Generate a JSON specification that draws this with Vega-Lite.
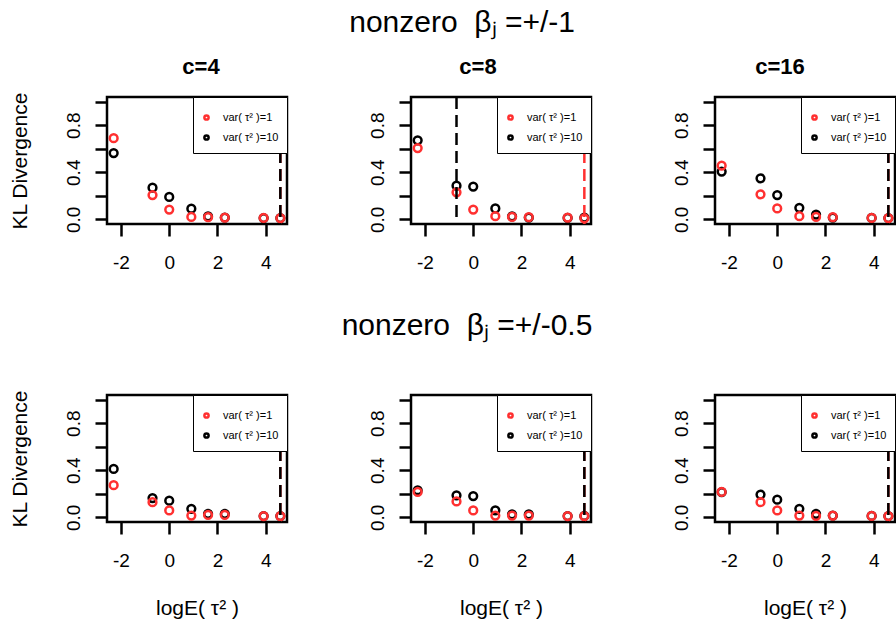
{
  "$schema": "https://vega.github.io/schema/vega-lite/v6.json",
  "background": "white",
  "padding": {"left": 7, "top": 8, "right": 0, "bottom": 4},
  "title": {"text": "nonzero\u00a0 βⱼ =+/-1", "fontSize": 30, "fontWeight": "normal", "anchor": "middle", "dx": 9, "offset": 16},
  "datasets": {
    "pts": [
      {"beta": "1", "c": 4, "series": "var( τ² )=10", "logtau": -2.303, "kl": 0.563},
      {"beta": "1", "c": 4, "series": "var( τ² )=10", "logtau": -0.693, "kl": 0.269},
      {"beta": "1", "c": 4, "series": "var( τ² )=10", "logtau": 0, "kl": 0.19},
      {"beta": "1", "c": 4, "series": "var( τ² )=10", "logtau": 0.916, "kl": 0.09},
      {"beta": "1", "c": 4, "series": "var( τ² )=10", "logtau": 1.609, "kl": 0.025},
      {"beta": "1", "c": 4, "series": "var( τ² )=10", "logtau": 2.303, "kl": 0.015},
      {"beta": "1", "c": 4, "series": "var( τ² )=10", "logtau": 3.912, "kl": 0.01},
      {"beta": "1", "c": 4, "series": "var( τ² )=10", "logtau": 4.605, "kl": 0.01},
      {"beta": "1", "c": 4, "series": "var( τ² )=1", "logtau": -2.303, "kl": 0.69},
      {"beta": "1", "c": 4, "series": "var( τ² )=1", "logtau": -0.693, "kl": 0.206},
      {"beta": "1", "c": 4, "series": "var( τ² )=1", "logtau": 0, "kl": 0.083},
      {"beta": "1", "c": 4, "series": "var( τ² )=1", "logtau": 0.916, "kl": 0.02},
      {"beta": "1", "c": 4, "series": "var( τ² )=1", "logtau": 1.609, "kl": 0.018},
      {"beta": "1", "c": 4, "series": "var( τ² )=1", "logtau": 2.303, "kl": 0.015},
      {"beta": "1", "c": 4, "series": "var( τ² )=1", "logtau": 3.912, "kl": 0.012},
      {"beta": "1", "c": 4, "series": "var( τ² )=1", "logtau": 4.605, "kl": 0.01},

      {"beta": "1", "c": 8, "series": "var( τ² )=10", "logtau": -2.303, "kl": 0.672},
      {"beta": "1", "c": 8, "series": "var( τ² )=10", "logtau": -0.693, "kl": 0.286},
      {"beta": "1", "c": 8, "series": "var( τ² )=10", "logtau": 0, "kl": 0.278},
      {"beta": "1", "c": 8, "series": "var( τ² )=10", "logtau": 0.916, "kl": 0.092},
      {"beta": "1", "c": 8, "series": "var( τ² )=10", "logtau": 1.609, "kl": 0.025},
      {"beta": "1", "c": 8, "series": "var( τ² )=10", "logtau": 2.303, "kl": 0.015},
      {"beta": "1", "c": 8, "series": "var( τ² )=10", "logtau": 3.912, "kl": 0.012},
      {"beta": "1", "c": 8, "series": "var( τ² )=10", "logtau": 4.605, "kl": 0.015},
      {"beta": "1", "c": 8, "series": "var( τ² )=1", "logtau": -2.303, "kl": 0.606},
      {"beta": "1", "c": 8, "series": "var( τ² )=1", "logtau": -0.693, "kl": 0.229},
      {"beta": "1", "c": 8, "series": "var( τ² )=1", "logtau": 0, "kl": 0.083},
      {"beta": "1", "c": 8, "series": "var( τ² )=1", "logtau": 0.916, "kl": 0.026},
      {"beta": "1", "c": 8, "series": "var( τ² )=1", "logtau": 1.609, "kl": 0.02},
      {"beta": "1", "c": 8, "series": "var( τ² )=1", "logtau": 2.303, "kl": 0.018},
      {"beta": "1", "c": 8, "series": "var( τ² )=1", "logtau": 3.912, "kl": 0.015},
      {"beta": "1", "c": 8, "series": "var( τ² )=1", "logtau": 4.605, "kl": 0.008},

      {"beta": "1", "c": 16, "series": "var( τ² )=10", "logtau": -2.303, "kl": 0.406},
      {"beta": "1", "c": 16, "series": "var( τ² )=10", "logtau": -0.693, "kl": 0.349},
      {"beta": "1", "c": 16, "series": "var( τ² )=10", "logtau": 0, "kl": 0.206},
      {"beta": "1", "c": 16, "series": "var( τ² )=10", "logtau": 0.916, "kl": 0.098},
      {"beta": "1", "c": 16, "series": "var( τ² )=10", "logtau": 1.609, "kl": 0.04},
      {"beta": "1", "c": 16, "series": "var( τ² )=10", "logtau": 2.303, "kl": 0.015},
      {"beta": "1", "c": 16, "series": "var( τ² )=10", "logtau": 3.912, "kl": 0.012},
      {"beta": "1", "c": 16, "series": "var( τ² )=10", "logtau": 4.605, "kl": 0.01},
      {"beta": "1", "c": 16, "series": "var( τ² )=1", "logtau": -2.303, "kl": 0.457},
      {"beta": "1", "c": 16, "series": "var( τ² )=1", "logtau": -0.693, "kl": 0.212},
      {"beta": "1", "c": 16, "series": "var( τ² )=1", "logtau": 0, "kl": 0.092},
      {"beta": "1", "c": 16, "series": "var( τ² )=1", "logtau": 0.916, "kl": 0.026},
      {"beta": "1", "c": 16, "series": "var( τ² )=1", "logtau": 1.609, "kl": 0.02},
      {"beta": "1", "c": 16, "series": "var( τ² )=1", "logtau": 2.303, "kl": 0.018},
      {"beta": "1", "c": 16, "series": "var( τ² )=1", "logtau": 3.912, "kl": 0.012},
      {"beta": "1", "c": 16, "series": "var( τ² )=1", "logtau": 4.605, "kl": 0.01},

      {"beta": "0.5", "c": 4, "series": "var( τ² )=10", "logtau": -2.303, "kl": 0.411},
      {"beta": "0.5", "c": 4, "series": "var( τ² )=10", "logtau": -0.693, "kl": 0.164},
      {"beta": "0.5", "c": 4, "series": "var( τ² )=10", "logtau": 0, "kl": 0.141},
      {"beta": "0.5", "c": 4, "series": "var( τ² )=10", "logtau": 0.916, "kl": 0.072},
      {"beta": "0.5", "c": 4, "series": "var( τ² )=10", "logtau": 1.609, "kl": 0.03},
      {"beta": "0.5", "c": 4, "series": "var( τ² )=10", "logtau": 2.303, "kl": 0.03},
      {"beta": "0.5", "c": 4, "series": "var( τ² )=10", "logtau": 3.912, "kl": 0.01},
      {"beta": "0.5", "c": 4, "series": "var( τ² )=10", "logtau": 4.605, "kl": 0.01},
      {"beta": "0.5", "c": 4, "series": "var( τ² )=1", "logtau": -2.303, "kl": 0.273},
      {"beta": "0.5", "c": 4, "series": "var( τ² )=1", "logtau": -0.693, "kl": 0.129},
      {"beta": "0.5", "c": 4, "series": "var( τ² )=1", "logtau": 0, "kl": 0.058},
      {"beta": "0.5", "c": 4, "series": "var( τ² )=1", "logtau": 0.916, "kl": 0.015},
      {"beta": "0.5", "c": 4, "series": "var( τ² )=1", "logtau": 1.609, "kl": 0.02},
      {"beta": "0.5", "c": 4, "series": "var( τ² )=1", "logtau": 2.303, "kl": 0.02},
      {"beta": "0.5", "c": 4, "series": "var( τ² )=1", "logtau": 3.912, "kl": 0.01},
      {"beta": "0.5", "c": 4, "series": "var( τ² )=1", "logtau": 4.605, "kl": 0.01},

      {"beta": "0.5", "c": 8, "series": "var( τ² )=10", "logtau": -2.303, "kl": 0.23},
      {"beta": "0.5", "c": 8, "series": "var( τ² )=10", "logtau": -0.693, "kl": 0.187},
      {"beta": "0.5", "c": 8, "series": "var( τ² )=10", "logtau": 0, "kl": 0.181},
      {"beta": "0.5", "c": 8, "series": "var( τ² )=10", "logtau": 0.916, "kl": 0.058},
      {"beta": "0.5", "c": 8, "series": "var( τ² )=10", "logtau": 1.609, "kl": 0.025},
      {"beta": "0.5", "c": 8, "series": "var( τ² )=10", "logtau": 2.303, "kl": 0.025},
      {"beta": "0.5", "c": 8, "series": "var( τ² )=10", "logtau": 3.912, "kl": 0.01},
      {"beta": "0.5", "c": 8, "series": "var( τ² )=10", "logtau": 4.605, "kl": 0.012},
      {"beta": "0.5", "c": 8, "series": "var( τ² )=1", "logtau": -2.303, "kl": 0.216},
      {"beta": "0.5", "c": 8, "series": "var( τ² )=1", "logtau": -0.693, "kl": 0.135},
      {"beta": "0.5", "c": 8, "series": "var( τ² )=1", "logtau": 0, "kl": 0.058},
      {"beta": "0.5", "c": 8, "series": "var( τ² )=1", "logtau": 0.916, "kl": 0.015},
      {"beta": "0.5", "c": 8, "series": "var( τ² )=1", "logtau": 1.609, "kl": 0.015},
      {"beta": "0.5", "c": 8, "series": "var( τ² )=1", "logtau": 2.303, "kl": 0.015},
      {"beta": "0.5", "c": 8, "series": "var( τ² )=1", "logtau": 3.912, "kl": 0.01},
      {"beta": "0.5", "c": 8, "series": "var( τ² )=1", "logtau": 4.605, "kl": 0.01},

      {"beta": "0.5", "c": 16, "series": "var( τ² )=10", "logtau": -2.303, "kl": 0.215},
      {"beta": "0.5", "c": 16, "series": "var( τ² )=10", "logtau": -0.693, "kl": 0.193},
      {"beta": "0.5", "c": 16, "series": "var( τ² )=10", "logtau": 0, "kl": 0.15},
      {"beta": "0.5", "c": 16, "series": "var( τ² )=10", "logtau": 0.916, "kl": 0.072},
      {"beta": "0.5", "c": 16, "series": "var( τ² )=10", "logtau": 1.609, "kl": 0.03},
      {"beta": "0.5", "c": 16, "series": "var( τ² )=10", "logtau": 2.303, "kl": 0.015},
      {"beta": "0.5", "c": 16, "series": "var( τ² )=10", "logtau": 3.912, "kl": 0.012},
      {"beta": "0.5", "c": 16, "series": "var( τ² )=10", "logtau": 4.605, "kl": 0.01},
      {"beta": "0.5", "c": 16, "series": "var( τ² )=1", "logtau": -2.303, "kl": 0.216},
      {"beta": "0.5", "c": 16, "series": "var( τ² )=1", "logtau": -0.693, "kl": 0.129},
      {"beta": "0.5", "c": 16, "series": "var( τ² )=1", "logtau": 0, "kl": 0.058},
      {"beta": "0.5", "c": 16, "series": "var( τ² )=1", "logtau": 0.916, "kl": 0.015},
      {"beta": "0.5", "c": 16, "series": "var( τ² )=1", "logtau": 1.609, "kl": 0.012},
      {"beta": "0.5", "c": 16, "series": "var( τ² )=1", "logtau": 2.303, "kl": 0.015},
      {"beta": "0.5", "c": 16, "series": "var( τ² )=1", "logtau": 3.912, "kl": 0.012},
      {"beta": "0.5", "c": 16, "series": "var( τ² )=1", "logtau": 4.605, "kl": 0.01}
    ],
    "vlines": [
      {"beta": "1", "c": 4, "series": "var( τ² )=1", "logtau": 4.605},
      {"beta": "1", "c": 4, "series": "var( τ² )=10", "logtau": 4.605},
      {"beta": "1", "c": 8, "series": "var( τ² )=1", "logtau": 4.605},
      {"beta": "1", "c": 8, "series": "var( τ² )=10", "logtau": -0.693},
      {"beta": "1", "c": 16, "series": "var( τ² )=1", "logtau": 4.605},
      {"beta": "1", "c": 16, "series": "var( τ² )=10", "logtau": 4.605},
      {"beta": "0.5", "c": 4, "series": "var( τ² )=1", "logtau": 4.605},
      {"beta": "0.5", "c": 4, "series": "var( τ² )=10", "logtau": 4.605},
      {"beta": "0.5", "c": 8, "series": "var( τ² )=1", "logtau": 4.605},
      {"beta": "0.5", "c": 8, "series": "var( τ² )=10", "logtau": 4.605},
      {"beta": "0.5", "c": 16, "series": "var( τ² )=1", "logtau": 4.605},
      {"beta": "0.5", "c": 16, "series": "var( τ² )=10", "logtau": 4.605}
    ]
  },
  "columns": 3,
  "spacing": {"row": 171, "column": 124},
  "bounds": "flush",
  "resolve": {"scale": {"color": "independent", "stroke": "independent"}, "legend": {"color": "independent", "stroke": "independent"}},
  "concat": [
    {
      "width": 180, "height": 127,
      "title": {"text": "c=4", "fontSize": 22, "fontWeight": "bold", "anchor": "middle", "frame": "group", "offset": 13, "dx": 4},
      "layer": [
        {"data": {"name": "pts"}, "transform": [{"filter": "datum.beta == '1' && datum.c == 4"}],
         "mark": {"type": "point", "filled": false, "size": 60, "strokeWidth": 2.5, "opacity": 1},
         "encoding": {
           "x": {"field": "logtau", "type": "quantitative", "scale": {"domain": [-2.579, 4.881], "nice": false, "zero": false}, "axis": {"values": [-2, -1, 0, 1, 2, 3, 4], "labelExpr": "datum.value % 2 == 0 ? toString(datum.value) : ''", "title": null}},
           "y": {"field": "kl", "type": "quantitative", "scale": {"domain": [-0.04, 1.04], "nice": false, "zero": false}, "axis": {"values": [0, 0.2, 0.4, 0.6, 0.8, 1], "labelExpr": "(datum.value == 0 || datum.value == 0.4 || datum.value == 0.8) ? format(datum.value, '.1f') : ''", "labelAngle": -90, "title": "KL Divergence"}},
           "color": {"field": "series", "type": "nominal", "scale": {"domain": ["var( τ² )=1", "var( τ² )=10"], "range": ["#ff3030", "#000000"]}, "legend": {"title": " ", "titleFontSize": 4, "titlePadding": 3, "orient": "top-right", "offset": 0, "padding": 8, "strokeColor": "black", "fillColor": "white", "labelFontSize": 11, "labelFont": "Liberation Sans", "symbolSize": 18, "symbolStrokeWidth": 2.5, "symbolType": "circle", "rowPadding": 5, "labelOffset": 11, "encode": {"legend": {"update": {"strokeWidth": {"value": 2.8}}}, "symbols": {"update": {"stroke": {"signal": "datum.value === 'var( τ² )=1' ? '#c42020' : '#000000'"}}}}}}
         }},
        {"data": {"name": "vlines"}, "transform": [{"filter": "datum.beta == '1' && datum.c == 4"}],
         "mark": {"type": "rule", "strokeDash": [12, 6], "strokeWidth": 2.5},
         "encoding": {
           "x": {"field": "logtau", "type": "quantitative"},
           "stroke": {"field": "series", "type": "nominal", "scale": {"domain": ["var( τ² )=1", "var( τ² )=10"], "range": ["#ff3030", "#000000"]}, "legend": null}
         }}
      ]
    },
    {
      "width": 180, "height": 127,
      "title": {"text": "c=8", "fontSize": 22, "fontWeight": "bold", "anchor": "middle", "frame": "group", "offset": 17, "dx": -23},
      "layer": [
        {"data": {"name": "pts"}, "transform": [{"filter": "datum.beta == '1' && datum.c == 8"}],
         "mark": {"type": "point", "filled": false, "size": 60, "strokeWidth": 2.5, "opacity": 1},
         "encoding": {
           "x": {"field": "logtau", "type": "quantitative", "scale": {"domain": [-2.579, 4.881], "nice": false, "zero": false}, "axis": {"values": [-2, -1, 0, 1, 2, 3, 4], "labelExpr": "datum.value % 2 == 0 ? toString(datum.value) : ''", "title": null}},
           "y": {"field": "kl", "type": "quantitative", "scale": {"domain": [-0.04, 1.04], "nice": false, "zero": false}, "axis": {"values": [0, 0.2, 0.4, 0.6, 0.8, 1], "labelExpr": "(datum.value == 0 || datum.value == 0.4 || datum.value == 0.8) ? format(datum.value, '.1f') : ''", "labelAngle": -90, "title": null}},
           "color": {"field": "series", "type": "nominal", "scale": {"domain": ["var( τ² )=1", "var( τ² )=10"], "range": ["#ff3030", "#000000"]}, "legend": {"title": " ", "titleFontSize": 4, "titlePadding": 3, "orient": "top-right", "offset": 0, "padding": 8, "strokeColor": "black", "fillColor": "white", "labelFontSize": 11, "labelFont": "Liberation Sans", "symbolSize": 18, "symbolStrokeWidth": 2.5, "symbolType": "circle", "rowPadding": 5, "labelOffset": 11, "encode": {"legend": {"update": {"strokeWidth": {"value": 2.8}}}, "symbols": {"update": {"stroke": {"signal": "datum.value === 'var( τ² )=1' ? '#c42020' : '#000000'"}}}}}}
         }},
        {"data": {"name": "vlines"}, "transform": [{"filter": "datum.beta == '1' && datum.c == 8"}],
         "mark": {"type": "rule", "strokeDash": [12, 6], "strokeWidth": 2.5},
         "encoding": {
           "x": {"field": "logtau", "type": "quantitative"},
           "stroke": {"field": "series", "type": "nominal", "scale": {"domain": ["var( τ² )=1", "var( τ² )=10"], "range": ["#ff3030", "#000000"]}, "legend": null}
         }}
      ]
    },
    {
      "width": 180, "height": 127,
      "title": {"text": "c=16", "fontSize": 22, "fontWeight": "bold", "anchor": "middle", "frame": "group", "offset": 17, "dx": -25},
      "layer": [
        {"data": {"name": "pts"}, "transform": [{"filter": "datum.beta == '1' && datum.c == 16"}],
         "mark": {"type": "point", "filled": false, "size": 60, "strokeWidth": 2.5, "opacity": 1},
         "encoding": {
           "x": {"field": "logtau", "type": "quantitative", "scale": {"domain": [-2.579, 4.881], "nice": false, "zero": false}, "axis": {"values": [-2, -1, 0, 1, 2, 3, 4], "labelExpr": "datum.value % 2 == 0 ? toString(datum.value) : ''", "title": null}},
           "y": {"field": "kl", "type": "quantitative", "scale": {"domain": [-0.04, 1.04], "nice": false, "zero": false}, "axis": {"values": [0, 0.2, 0.4, 0.6, 0.8, 1], "labelExpr": "(datum.value == 0 || datum.value == 0.4 || datum.value == 0.8) ? format(datum.value, '.1f') : ''", "labelAngle": -90, "title": null}},
           "color": {"field": "series", "type": "nominal", "scale": {"domain": ["var( τ² )=1", "var( τ² )=10"], "range": ["#ff3030", "#000000"]}, "legend": {"title": " ", "titleFontSize": 4, "titlePadding": 3, "orient": "top-right", "offset": 0, "padding": 8, "strokeColor": "black", "fillColor": "white", "labelFontSize": 11, "labelFont": "Liberation Sans", "symbolSize": 18, "symbolStrokeWidth": 2.5, "symbolType": "circle", "rowPadding": 5, "labelOffset": 11, "encode": {"legend": {"update": {"strokeWidth": {"value": 2.8}}}, "symbols": {"update": {"stroke": {"signal": "datum.value === 'var( τ² )=1' ? '#c42020' : '#000000'"}}}}}}
         }},
        {"data": {"name": "vlines"}, "transform": [{"filter": "datum.beta == '1' && datum.c == 16"}],
         "mark": {"type": "rule", "strokeDash": [12, 6], "strokeWidth": 2.5},
         "encoding": {
           "x": {"field": "logtau", "type": "quantitative"},
           "stroke": {"field": "series", "type": "nominal", "scale": {"domain": ["var( τ² )=1", "var( τ² )=10"], "range": ["#ff3030", "#000000"]}, "legend": null}
         }}
      ]
    },
    {
      "width": 180, "height": 127,
      "layer": [
        {"data": {"name": "pts"}, "transform": [{"filter": "datum.beta == '0.5' && datum.c == 4"}],
         "mark": {"type": "point", "filled": false, "size": 60, "strokeWidth": 2.5, "opacity": 1},
         "encoding": {
           "x": {"field": "logtau", "type": "quantitative", "scale": {"domain": [-2.579, 4.881], "nice": false, "zero": false}, "axis": {"values": [-2, -1, 0, 1, 2, 3, 4], "labelExpr": "datum.value % 2 == 0 ? toString(datum.value) : ''", "title": "logE( τ² )"}},
           "y": {"field": "kl", "type": "quantitative", "scale": {"domain": [-0.04, 1.04], "nice": false, "zero": false}, "axis": {"values": [0, 0.2, 0.4, 0.6, 0.8, 1], "labelExpr": "(datum.value == 0 || datum.value == 0.4 || datum.value == 0.8) ? format(datum.value, '.1f') : ''", "labelAngle": -90, "title": "KL Divergence"}},
           "color": {"field": "series", "type": "nominal", "scale": {"domain": ["var( τ² )=1", "var( τ² )=10"], "range": ["#ff3030", "#000000"]}, "legend": {"title": " ", "titleFontSize": 4, "titlePadding": 3, "orient": "top-right", "offset": 0, "padding": 8, "strokeColor": "black", "fillColor": "white", "labelFontSize": 11, "labelFont": "Liberation Sans", "symbolSize": 18, "symbolStrokeWidth": 2.5, "symbolType": "circle", "rowPadding": 5, "labelOffset": 11, "encode": {"legend": {"update": {"strokeWidth": {"value": 2.8}}}, "symbols": {"update": {"stroke": {"signal": "datum.value === 'var( τ² )=1' ? '#c42020' : '#000000'"}}}}}}
         }},
        {"data": {"name": "vlines"}, "transform": [{"filter": "datum.beta == '0.5' && datum.c == 4"}],
         "mark": {"type": "rule", "strokeDash": [12, 6], "strokeWidth": 2.5},
         "encoding": {
           "x": {"field": "logtau", "type": "quantitative"},
           "stroke": {"field": "series", "type": "nominal", "scale": {"domain": ["var( τ² )=1", "var( τ² )=10"], "range": ["#ff3030", "#000000"]}, "legend": null}
         }}
      ]
    },
    {
      "width": 180, "height": 127,
      "title": {"text": "nonzero\u00a0 βⱼ =+/-0.5", "fontSize": 30, "fontWeight": "normal", "anchor": "middle", "frame": "group", "offset": 53, "dx": -34},
      "layer": [
        {"data": {"name": "pts"}, "transform": [{"filter": "datum.beta == '0.5' && datum.c == 8"}],
         "mark": {"type": "point", "filled": false, "size": 60, "strokeWidth": 2.5, "opacity": 1},
         "encoding": {
           "x": {"field": "logtau", "type": "quantitative", "scale": {"domain": [-2.579, 4.881], "nice": false, "zero": false}, "axis": {"values": [-2, -1, 0, 1, 2, 3, 4], "labelExpr": "datum.value % 2 == 0 ? toString(datum.value) : ''", "title": "logE( τ² )"}},
           "y": {"field": "kl", "type": "quantitative", "scale": {"domain": [-0.04, 1.04], "nice": false, "zero": false}, "axis": {"values": [0, 0.2, 0.4, 0.6, 0.8, 1], "labelExpr": "(datum.value == 0 || datum.value == 0.4 || datum.value == 0.8) ? format(datum.value, '.1f') : ''", "labelAngle": -90, "title": null}},
           "color": {"field": "series", "type": "nominal", "scale": {"domain": ["var( τ² )=1", "var( τ² )=10"], "range": ["#ff3030", "#000000"]}, "legend": {"title": " ", "titleFontSize": 4, "titlePadding": 3, "orient": "top-right", "offset": 0, "padding": 8, "strokeColor": "black", "fillColor": "white", "labelFontSize": 11, "labelFont": "Liberation Sans", "symbolSize": 18, "symbolStrokeWidth": 2.5, "symbolType": "circle", "rowPadding": 5, "labelOffset": 11, "encode": {"legend": {"update": {"strokeWidth": {"value": 2.8}}}, "symbols": {"update": {"stroke": {"signal": "datum.value === 'var( τ² )=1' ? '#c42020' : '#000000'"}}}}}}
         }},
        {"data": {"name": "vlines"}, "transform": [{"filter": "datum.beta == '0.5' && datum.c == 8"}],
         "mark": {"type": "rule", "strokeDash": [12, 6], "strokeWidth": 2.5},
         "encoding": {
           "x": {"field": "logtau", "type": "quantitative"},
           "stroke": {"field": "series", "type": "nominal", "scale": {"domain": ["var( τ² )=1", "var( τ² )=10"], "range": ["#ff3030", "#000000"]}, "legend": null}
         }}
      ]
    },
    {
      "width": 180, "height": 127,
      "layer": [
        {"data": {"name": "pts"}, "transform": [{"filter": "datum.beta == '0.5' && datum.c == 16"}],
         "mark": {"type": "point", "filled": false, "size": 60, "strokeWidth": 2.5, "opacity": 1},
         "encoding": {
           "x": {"field": "logtau", "type": "quantitative", "scale": {"domain": [-2.579, 4.881], "nice": false, "zero": false}, "axis": {"values": [-2, -1, 0, 1, 2, 3, 4], "labelExpr": "datum.value % 2 == 0 ? toString(datum.value) : ''", "title": "logE( τ² )"}},
           "y": {"field": "kl", "type": "quantitative", "scale": {"domain": [-0.04, 1.04], "nice": false, "zero": false}, "axis": {"values": [0, 0.2, 0.4, 0.6, 0.8, 1], "labelExpr": "(datum.value == 0 || datum.value == 0.4 || datum.value == 0.8) ? format(datum.value, '.1f') : ''", "labelAngle": -90, "title": null}},
           "color": {"field": "series", "type": "nominal", "scale": {"domain": ["var( τ² )=1", "var( τ² )=10"], "range": ["#ff3030", "#000000"]}, "legend": {"title": " ", "titleFontSize": 4, "titlePadding": 3, "orient": "top-right", "offset": 0, "padding": 8, "strokeColor": "black", "fillColor": "white", "labelFontSize": 11, "labelFont": "Liberation Sans", "symbolSize": 18, "symbolStrokeWidth": 2.5, "symbolType": "circle", "rowPadding": 5, "labelOffset": 11, "encode": {"legend": {"update": {"strokeWidth": {"value": 2.8}}}, "symbols": {"update": {"stroke": {"signal": "datum.value === 'var( τ² )=1' ? '#c42020' : '#000000'"}}}}}}
         }},
        {"data": {"name": "vlines"}, "transform": [{"filter": "datum.beta == '0.5' && datum.c == 16"}],
         "mark": {"type": "rule", "strokeDash": [12, 6], "strokeWidth": 2.5},
         "encoding": {
           "x": {"field": "logtau", "type": "quantitative"},
           "stroke": {"field": "series", "type": "nominal", "scale": {"domain": ["var( τ² )=1", "var( τ² )=10"], "range": ["#ff3030", "#000000"]}, "legend": null}
         }}
      ]
    }
  ],
  "config": {
    "font": "Liberation Sans",
    "view": {"stroke": "black", "strokeWidth": 2.5},
    "title": {"color": "black", "font": "Liberation Sans"},
    "axis": {"domain": false, "grid": false, "ticks": true, "tickColor": "black", "tickWidth": 2.5, "tickSize": 12, "labelColor": "black", "labelFontSize": 19, "labelFont": "Liberation Sans", "labelOverlap": false, "labelFlush": false, "titleFont": "Liberation Sans", "titleFontWeight": "normal", "titleFontSize": 21, "titleColor": "black"},
    "axisX": {"labelPadding": 17, "titlePadding": 27},
    "axisY": {"labelPadding": 12, "titlePadding": 34}
  }
}
